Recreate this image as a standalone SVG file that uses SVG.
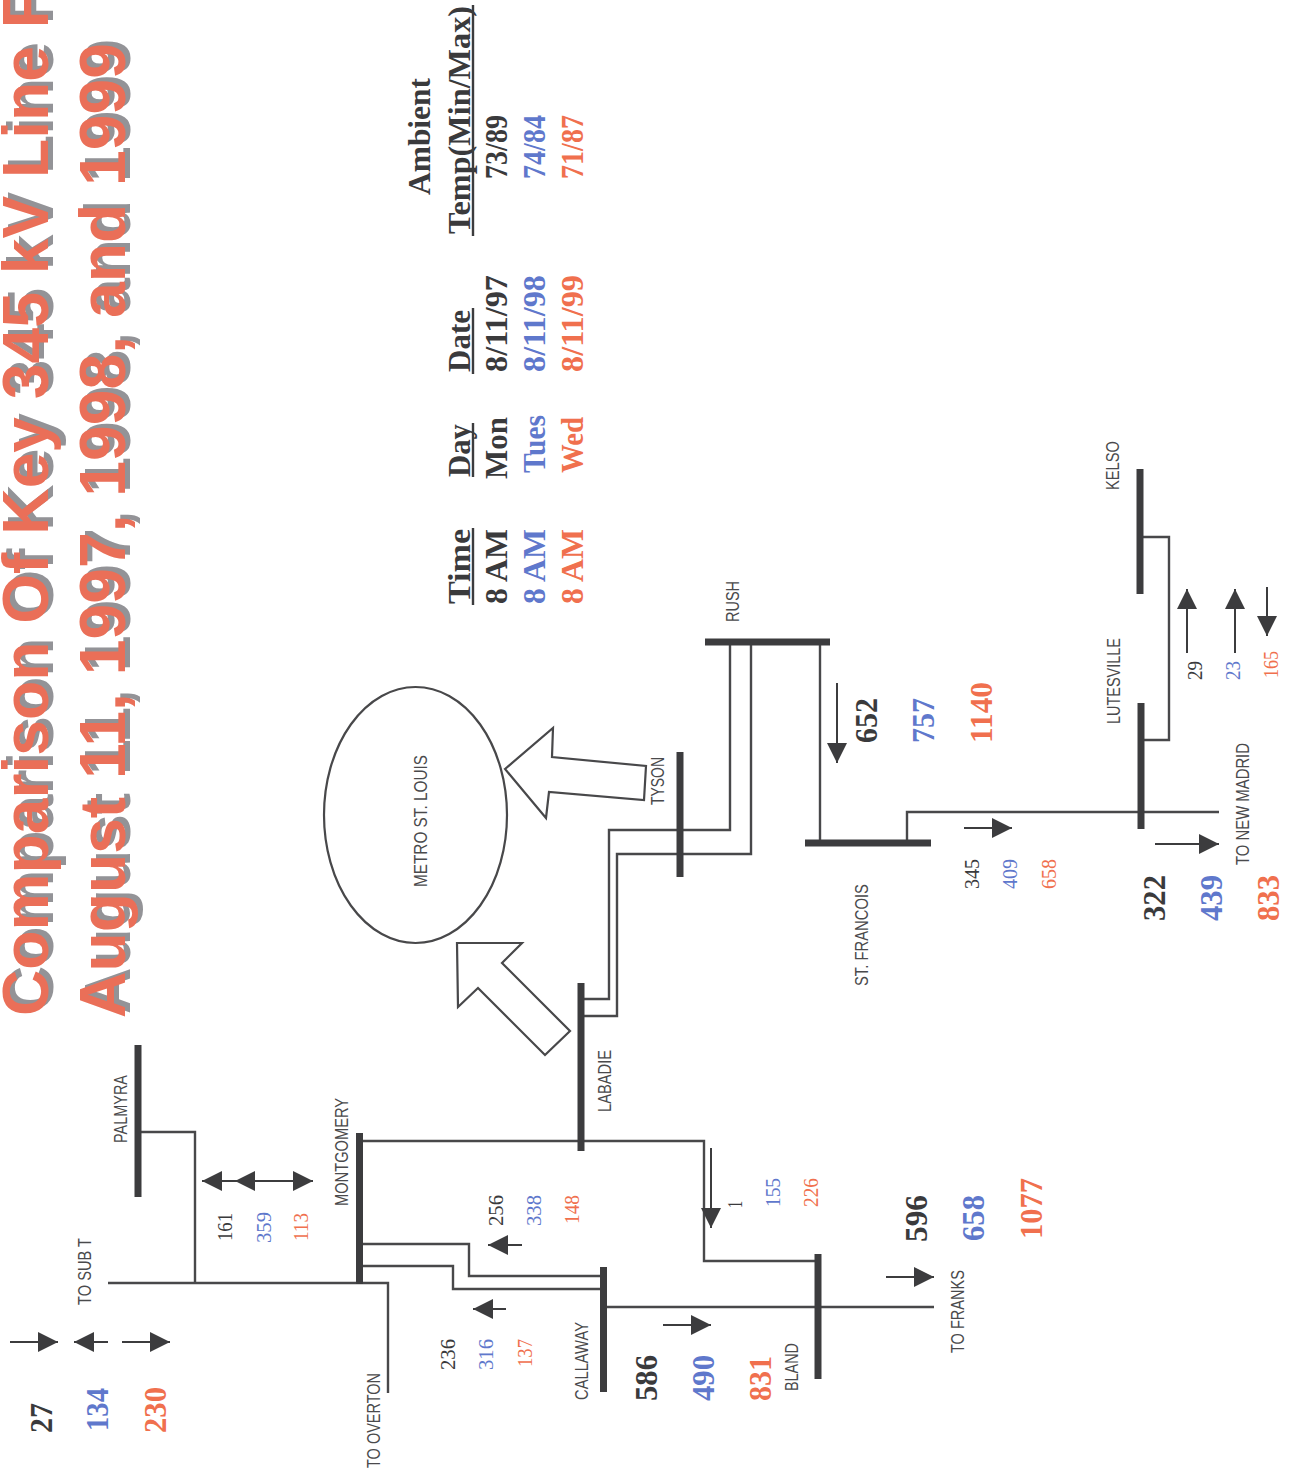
<svg xmlns="http://www.w3.org/2000/svg" width="1292" height="1475" viewBox="0 0 1292 1475">
<style>
.bus{fill:none;stroke:#3c3c3e;stroke-width:7}
.ln{fill:none;stroke:#48484a;stroke-width:2.4}
.arw{fill:none;stroke:#3c3c3e;stroke-width:2;marker-end:url(#h)}
.blk{fill:#fff;stroke:#48484a;stroke-width:2.2}
.u{fill:none;stroke:#3c3c3e;stroke-width:2.4}
text{font-family:"Liberation Serif","Times New Roman",serif;fill:#3a3a3c}
.lb{font-family:"Liberation Sans",Arial,sans-serif;font-size:18.5px;fill:#4a4a4c}
.s{font-size:22px}
.b{font-size:32px;font-weight:bold}
.t{font-size:32px;font-weight:bold}
.blue{fill:#5f78cc}
.red{fill:#f0704e}
.title{font-family:"Liberation Sans",Arial,sans-serif;font-size:65px;font-weight:bold}
.ts{fill:#939397}
.tr{fill:#ea6f58}
</style>
<defs>
<marker id="h" markerUnits="userSpaceOnUse" markerWidth="20" markerHeight="20" refX="20" refY="10" orient="auto-start-reverse"><path d="M0 0L20 10L0 20Z" fill="#3c3c3e"/></marker>
</defs>
<rect width="1292" height="1475" fill="#fff"/>

<g id="title">
<text class="title ts" lengthAdjust="spacingAndGlyphs" textLength="1027" transform="translate(53 1012) rotate(-90)">Comparison Of Key 345 kV Line F</text>
<text class="title tr" lengthAdjust="spacingAndGlyphs" textLength="1027" transform="translate(48 1016) rotate(-90)">Comparison Of Key 345 kV Line F</text>
<text class="title ts" lengthAdjust="spacingAndGlyphs" textLength="975" transform="translate(130 1014) rotate(-90)">August 11, 1997, 1998, and 1999</text>
<text class="title tr" lengthAdjust="spacingAndGlyphs" textLength="975" transform="translate(125 1018) rotate(-90)">August 11, 1997, 1998, and 1999</text>
</g>

<g id="table">
<text class="t" lengthAdjust="spacingAndGlyphs" textLength="75" transform="translate(470 604) rotate(-90)">Time</text>
<text class="t" lengthAdjust="spacingAndGlyphs" textLength="53" transform="translate(470 477) rotate(-90)">Day</text>
<text class="t" lengthAdjust="spacingAndGlyphs" textLength="62" transform="translate(470 372) rotate(-90)">Date</text>
<text class="t" lengthAdjust="spacingAndGlyphs" textLength="117" transform="translate(430 195) rotate(-90)">Ambient</text>
<text class="t" lengthAdjust="spacingAndGlyphs" textLength="228" transform="translate(470 234) rotate(-90)">Temp(Min/Max)</text>
<path class="u" d="M473 528V605M473 423V477M473 308V374M473 5V236"/>
<text class="t" lengthAdjust="spacingAndGlyphs" textLength="75" transform="translate(507 604) rotate(-90)">8 AM</text>
<text class="t" lengthAdjust="spacingAndGlyphs" textLength="62" transform="translate(507 479) rotate(-90)">Mon</text>
<text class="t" lengthAdjust="spacingAndGlyphs" textLength="97" transform="translate(507 372) rotate(-90)">8/11/97</text>
<text class="t" lengthAdjust="spacingAndGlyphs" textLength="64" transform="translate(507 179) rotate(-90)">73/89</text>
<text class="t blue" lengthAdjust="spacingAndGlyphs" textLength="75" transform="translate(545 604) rotate(-90)">8 AM</text>
<text class="t blue" lengthAdjust="spacingAndGlyphs" textLength="58" transform="translate(545 473) rotate(-90)">Tues</text>
<text class="t blue" lengthAdjust="spacingAndGlyphs" textLength="97" transform="translate(545 372) rotate(-90)">8/11/98</text>
<text class="t blue" lengthAdjust="spacingAndGlyphs" textLength="64" transform="translate(545 179) rotate(-90)">74/84</text>
<text class="t red" lengthAdjust="spacingAndGlyphs" textLength="75" transform="translate(583 604) rotate(-90)">8 AM</text>
<text class="t red" lengthAdjust="spacingAndGlyphs" textLength="56" transform="translate(583 473) rotate(-90)">Wed</text>
<text class="t red" lengthAdjust="spacingAndGlyphs" textLength="97" transform="translate(583 372) rotate(-90)">8/11/99</text>
<text class="t red" lengthAdjust="spacingAndGlyphs" textLength="64" transform="translate(583 179) rotate(-90)">71/87</text>
</g>

<g id="connectors">
<path class="ln" d="M138 1132H195V1282"/>
<path class="ln" d="M108 1283H388V1393"/>
<path class="ln" d="M360 1141H704V1261H818"/>
<path class="ln" d="M360 1244H469V1276H603"/>
<path class="ln" d="M360 1266H453V1289H603"/>
<path class="ln" d="M603 1307H934"/>
<path class="ln" d="M581 999H609V830H730V642"/>
<path class="ln" d="M581 1016H617V854H751V642"/>
<path class="ln" d="M820 642V843"/>
<path class="ln" d="M907 843V812H1219"/>
<path class="ln" d="M1140 537H1169V740H1141"/>
<line class="arw" x1="10" y1="1342" x2="58" y2="1342"/>
<line class="arw" x1="108" y1="1342" x2="74" y2="1342"/>
<line class="arw" x1="122" y1="1342" x2="170" y2="1342"/>
<path class="arw" d="M202 1181H313" style="marker-start:url(#h)"/>
<line class="arw" x1="255" y1="1181" x2="235" y2="1181"/>
<line class="arw" x1="522" y1="1245" x2="488" y2="1245"/>
<line class="arw" x1="506" y1="1309" x2="473" y2="1309"/>
<line class="arw" x1="711" y1="1148" x2="711" y2="1228"/>
<line class="arw" x1="663" y1="1325" x2="711" y2="1325"/>
<line class="arw" x1="886" y1="1277" x2="934" y2="1277"/>
<line class="arw" x1="837" y1="683" x2="837" y2="763"/>
<line class="arw" x1="964" y1="828" x2="1012" y2="828"/>
<line class="arw" x1="1155" y1="844" x2="1219" y2="844"/>
<line class="arw" x1="1187" y1="653" x2="1187" y2="589"/>
<line class="arw" x1="1235" y1="653" x2="1235" y2="589"/>
<line class="arw" x1="1267" y1="587" x2="1267" y2="636"/>
</g>

<g id="metro">
<ellipse class="blk" cx="415.500" cy="815" rx="91.500" ry="128"/>
<text class="lb" lengthAdjust="spacingAndGlyphs" textLength="132" transform="translate(427 887) rotate(-90)">METRO ST. LOUIS</text>
<polygon class="blk" points="505,769 553,728 552,757 646,766 644,800 549,792 546,818"/>
<polygon class="blk" points="457,943 522,943 502,963 570,1031 545,1055 478,988 458,1007"/>
</g>

<g id="palmyra"><path class="bus" d="M138 1045V1197"/><text class="lb" lengthAdjust="spacingAndGlyphs" textLength="68" transform="translate(127 1143) rotate(-90)">PALMYRA</text></g>
<g id="montgomery"><path class="bus" d="M359.500 1133V1284"/><text class="lb" lengthAdjust="spacingAndGlyphs" textLength="108" transform="translate(348 1206) rotate(-90)">MONTGOMERY</text></g>
<g id="labadie"><path class="bus" d="M581 983V1151"/><text class="lb" lengthAdjust="spacingAndGlyphs" textLength="62" transform="translate(611 1112) rotate(-90)">LABADIE</text></g>
<g id="callaway"><path class="bus" d="M603.500 1267V1392"/><text class="lb" lengthAdjust="spacingAndGlyphs" textLength="78" transform="translate(588 1400) rotate(-90)">CALLAWAY</text></g>
<g id="bland"><path class="bus" d="M818 1254V1379"/><text class="lb" lengthAdjust="spacingAndGlyphs" textLength="48" transform="translate(798 1391) rotate(-90)">BLAND</text></g>
<g id="tyson"><path class="bus" d="M680 752V877"/><text class="lb" lengthAdjust="spacingAndGlyphs" textLength="48" transform="translate(664 805) rotate(-90)">TYSON</text></g>
<g id="rush"><path class="bus" d="M705 642H830"/><text class="lb" lengthAdjust="spacingAndGlyphs" textLength="41" transform="translate(739 622) rotate(-90)">RUSH</text></g>
<g id="st-francois"><path class="bus" d="M805 843H931"/><text class="lb" lengthAdjust="spacingAndGlyphs" textLength="102" transform="translate(868 986) rotate(-90)">ST. FRANCOIS</text></g>
<g id="kelso"><path class="bus" d="M1140 469V594"/><text class="lb" lengthAdjust="spacingAndGlyphs" textLength="49" transform="translate(1119 490) rotate(-90)">KELSO</text></g>
<g id="lutesville"><path class="bus" d="M1141 703V829"/><text class="lb" lengthAdjust="spacingAndGlyphs" textLength="86" transform="translate(1120 724) rotate(-90)">LUTESVILLE</text></g>
<g id="to-sub-t"><text class="lb" lengthAdjust="spacingAndGlyphs" textLength="67" transform="translate(91 1305) rotate(-90)">TO SUB T</text></g>
<g id="to-overton"><text class="lb" lengthAdjust="spacingAndGlyphs" textLength="95" transform="translate(380 1468) rotate(-90)">TO OVERTON</text></g>
<g id="to-franks"><text class="lb" lengthAdjust="spacingAndGlyphs" textLength="83" transform="translate(964 1353) rotate(-90)">TO FRANKS</text></g>
<g id="to-new-madrid"><text class="lb" lengthAdjust="spacingAndGlyphs" textLength="122" transform="translate(1249 865) rotate(-90)">TO NEW MADRID</text></g>

<g id="flows">
<text class="s" lengthAdjust="spacingAndGlyphs" textLength="28" transform="translate(232 1241) rotate(-90)">161</text>
<text class="s blue" lengthAdjust="spacingAndGlyphs" textLength="31" transform="translate(271 1243) rotate(-90)">359</text>
<text class="s red" lengthAdjust="spacingAndGlyphs" textLength="28" transform="translate(308 1241) rotate(-90)">113</text>
<text class="b" lengthAdjust="spacingAndGlyphs" textLength="30" transform="translate(52 1433) rotate(-90)">27</text>
<text class="b blue" lengthAdjust="spacingAndGlyphs" textLength="43" transform="translate(108 1431) rotate(-90)">134</text>
<text class="b red" lengthAdjust="spacingAndGlyphs" textLength="46" transform="translate(166 1433) rotate(-90)">230</text>
<text class="s" lengthAdjust="spacingAndGlyphs" textLength="31" transform="translate(455 1370) rotate(-90)">236</text>
<text class="s blue" lengthAdjust="spacingAndGlyphs" textLength="31" transform="translate(493 1370) rotate(-90)">316</text>
<text class="s red" lengthAdjust="spacingAndGlyphs" textLength="28" transform="translate(532 1367) rotate(-90)">137</text>
<text class="s" lengthAdjust="spacingAndGlyphs" textLength="31" transform="translate(503 1226) rotate(-90)">256</text>
<text class="s blue" lengthAdjust="spacingAndGlyphs" textLength="31" transform="translate(541 1226) rotate(-90)">338</text>
<text class="s red" lengthAdjust="spacingAndGlyphs" textLength="29" transform="translate(579 1224) rotate(-90)">148</text>
<text class="s" lengthAdjust="spacingAndGlyphs" textLength="7" transform="translate(742 1208) rotate(-90)">1</text>
<text class="s blue" lengthAdjust="spacingAndGlyphs" textLength="29" transform="translate(780 1207) rotate(-90)">155</text>
<text class="s red" lengthAdjust="spacingAndGlyphs" textLength="29" transform="translate(818 1207) rotate(-90)">226</text>
<text class="b" lengthAdjust="spacingAndGlyphs" textLength="47" transform="translate(927 1242) rotate(-90)">596</text>
<text class="b blue" lengthAdjust="spacingAndGlyphs" textLength="46" transform="translate(984 1241) rotate(-90)">658</text>
<text class="b red" lengthAdjust="spacingAndGlyphs" textLength="61" transform="translate(1042 1239) rotate(-90)">1077</text>
<text class="b" lengthAdjust="spacingAndGlyphs" textLength="46" transform="translate(657 1401) rotate(-90)">586</text>
<text class="b blue" lengthAdjust="spacingAndGlyphs" textLength="46" transform="translate(714 1401) rotate(-90)">490</text>
<text class="b red" lengthAdjust="spacingAndGlyphs" textLength="45" transform="translate(771 1401) rotate(-90)">831</text>
<text class="b" lengthAdjust="spacingAndGlyphs" textLength="45" transform="translate(877 743) rotate(-90)">652</text>
<text class="b blue" lengthAdjust="spacingAndGlyphs" textLength="45" transform="translate(934 743) rotate(-90)">757</text>
<text class="b red" lengthAdjust="spacingAndGlyphs" textLength="61" transform="translate(992 743) rotate(-90)">1140</text>
<text class="s" lengthAdjust="spacingAndGlyphs" textLength="30" transform="translate(979 889) rotate(-90)">345</text>
<text class="s blue" lengthAdjust="spacingAndGlyphs" textLength="30" transform="translate(1017 889) rotate(-90)">409</text>
<text class="s red" lengthAdjust="spacingAndGlyphs" textLength="30" transform="translate(1056 889) rotate(-90)">658</text>
<text class="b" lengthAdjust="spacingAndGlyphs" textLength="46" transform="translate(1165 921) rotate(-90)">322</text>
<text class="b blue" lengthAdjust="spacingAndGlyphs" textLength="46" transform="translate(1222 921) rotate(-90)">439</text>
<text class="b red" lengthAdjust="spacingAndGlyphs" textLength="46" transform="translate(1279 921) rotate(-90)">833</text>
<text class="s" lengthAdjust="spacingAndGlyphs" textLength="19" transform="translate(1202 680) rotate(-90)">29</text>
<text class="s blue" lengthAdjust="spacingAndGlyphs" textLength="19" transform="translate(1240 680) rotate(-90)">23</text>
<text class="s red" lengthAdjust="spacingAndGlyphs" textLength="27" transform="translate(1278 678) rotate(-90)">165</text>
</g>
</svg>
